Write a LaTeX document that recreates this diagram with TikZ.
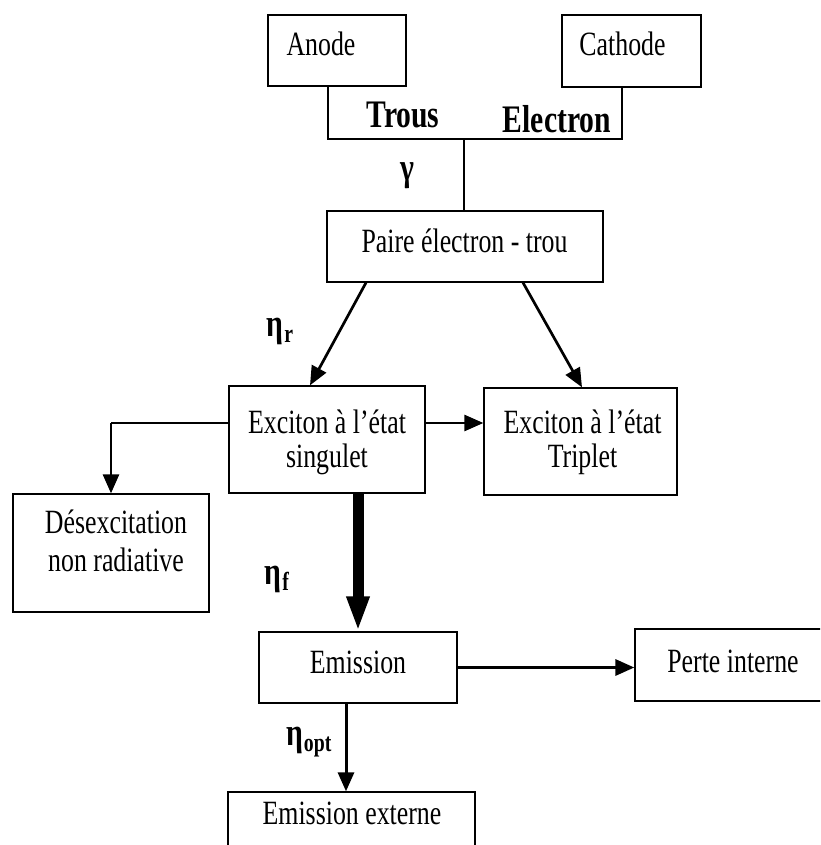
\documentclass[tikz,border=0pt]{standalone}
\usepackage{fontspec}
\setmainfont[FakeStretch=0.76]{Liberation Serif}
\usetikzlibrary{arrows.meta,calc}
% eta with a lowered bold subscript
\newcommand\etasub[1]{η\kern0.3pt\raisebox{-3pt}{\fontsize{13}{13}\selectfont #1}}
\begin{document}
\begin{tikzpicture}[x=0.5pt,y=-0.5pt,
  box/.style n args={2}{draw,line width=0.65pt,inner sep=0pt,
    minimum width=#1*0.5pt,minimum height=#2*0.5pt},
  txt/.style={font=\fontsize{17}{20}\selectfont,anchor=base,inner sep=0pt},
  twoline/.style={font=\fontsize{17}{#1}\selectfont,align=center,inner sep=0pt},
  lbl/.style={font=\bfseries\fontsize{19.5}{23}\selectfont,inner sep=0pt},
  wire/.style={line width=0.65pt},
  arr/.style={line width=1.35pt,-{Triangle[length=9.5pt,width=8pt]}},
  bigarr/.style={line width=5.5pt,-{Triangle[length=17.5pt,width=10.5pt]}}]
\clip (0,0) rectangle (820,845);
\useasboundingbox (0,0) rectangle (820,845);

% electrodes
\node[box={138}{71}] (anode) at (337,50.5) {};
\node[txt] (anodeT) at (321,56) {Anode};
\node[box={139}{72}] (cathode) at (631.5,51) {};
\node[txt] (cathodeT) at (622.5,56) {Cathode};
\node[lbl,anchor=base] (trous) at (403,128) {Trous};
\node[lbl,anchor=base] (electron) at (557,133) {Electron};
\node[lbl] (gamma) at (407,176) {γ};

% pair box
\node[box={276}{71}] (paire) at (465,246.5) {};
\node[txt] (paireT) at (464.5,252) {Paire électron - trou};

% excitons
\node[box={196}{107}] (singulet) at (327,439.5) {};
\node[twoline=17pt] (singuletT) at (327,442) {Exciton à l’état\\singulet};
\node[box={193}{107}] (triplet) at (580.5,441.5) {};
\node[twoline=17pt] (tripletT) at (582.5,442) {Exciton à l’état\\Triplet};

% non radiative decay
\node[box={196}{118}] (desexc) at (111,553) {};
\node[twoline=19pt] (desexcT) at (116,541) {Désexcitation\\non radiative};

% emission stage
\node[box={198}{71}] (emission) at (358,667.5) {};
\node[txt] (emissionT) at (358,673) {Emission};
\node[box={196}{72}] (perte) at (733,665) {};
\node[txt] (perteT) at (733,672) {Perte interne};
\node[box={247}{78}] (externe) at (351.5,831) {};
\node[txt] (externeT) at (352,824) {Emission externe};

% efficiency labels
\node[lbl] (etar) at (280,331) {\etasub{r}};
\node[lbl] (etaf) at (277,579) {\etasub{f}};
\node[lbl] (etaopt) at (309,742) {\etasub{opt}};

% electrode bracket
\coordinate (ja) at (328,139);
\coordinate (jm) at (464,139);
\coordinate (jc) at (622,139);
\draw[wire] (anode.south -| ja) -- (ja) -- (jc) -- (cathode.south -| jc);
\draw[wire] (jm) -- (paire.north -| jm);

% pair splitting
\draw[arr] ($(paire.south)+(-99,0)$) -- ($(singulet.north)+(-17,0)$);
\draw[arr] ($(paire.south)+(58,0)$) -- ($(triplet.north)+(1.5,0)$);

% singulet branches
\coordinate (sR) at ($(singulet.east)+(0,-16.5)$);
\coordinate (sL) at ($(singulet.west)+(0,-16.5)$);
\coordinate (bend) at (desexc.north |- sL);
\draw[arr] (sR) -- (triplet.west |- sR);
\draw[wire] (sL) -- (bend);
\draw[arr] (bend) -- (desexc.north);
\draw[bigarr] (singulet.south -| emission.north) -- (emission.north);

% emission branches
\draw[arr,line width=1.6pt] (emission.east) -- (perte.west |- emission.east);
\coordinate (eo) at ($(emission.south)+(-12,0)$);
\draw[arr,line width=1.5pt] (eo) -- (externe.north -| eo);
\end{tikzpicture}
\end{document}
